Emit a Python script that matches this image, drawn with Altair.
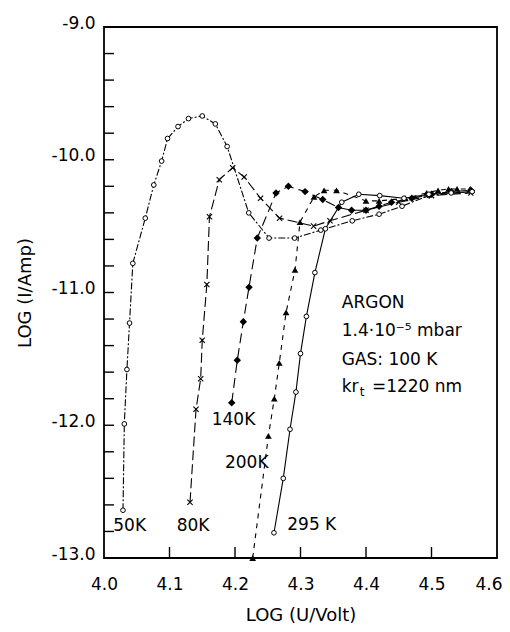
import altair as alt
import pandas as pd

# ---- data ----
x50 = [4.029, 4.031, 4.035, 4.039, 4.044, 4.063, 4.076, 4.088, 4.097, 4.113, 4.129, 4.150, 4.170, 4.188,
       4.221, 4.252, 4.291, 4.331, 4.379, 4.420, 4.455, 4.496, 4.562]
y50 = [-12.64, -11.99, -11.58, -11.23, -10.78, -10.44, -10.19, -10.01, -9.84, -9.75, -9.69, -9.67, -9.73, -9.90,
       -10.40, -10.59, -10.59, -10.53, -10.46, -10.41, -10.35, -10.27, -10.24]

x80 = [4.1313, 4.1405, 4.1476, 4.150, 4.157, 4.161, 4.176, 4.1964, 4.214, 4.239, 4.268, 4.320, 4.345,
       4.400, 4.450, 4.500, 4.560]
y80 = [-12.58, -11.88, -11.65, -11.36, -10.94, -10.43, -10.15, -10.06, -10.13, -10.29, -10.44, -10.50, -10.46,
       -10.38, -10.32, -10.27, -10.25]

x140 = [4.195, 4.2035, 4.2127, 4.2214, 4.234, 4.2626, 4.2815, 4.307, 4.334, 4.358, 4.378, 4.400, 4.420,
        4.439, 4.470, 4.500, 4.530, 4.560]
y140 = [-11.83, -11.51, -11.22, -10.96, -10.59, -10.25, -10.20, -10.24, -10.30, -10.36, -10.38, -10.38, -10.35,
        -10.32, -10.29, -10.26, -10.24, -10.23]

x200 = [4.227, 4.251, 4.260, 4.2676, 4.278, 4.2916, 4.2992, 4.3206, 4.336, 4.355, 4.400, 4.420, 4.460,
        4.4926, 4.510, 4.526, 4.539, 4.559]
y200 = [-13.0, -12.08, -11.80, -11.53, -11.15, -10.83, -10.47, -10.28, -10.23, -10.23, -10.31, -10.31, -10.29,
        -10.25, -10.23, -10.22, -10.22, -10.22]

x295 = [4.2595, 4.2737, 4.284, 4.293, 4.300, 4.309, 4.322, 4.338, 4.363, 4.389, 4.421, 4.458, 4.496, 4.530, 4.562]
y295 = [-12.81, -12.40, -12.03, -11.75, -11.46, -11.18, -10.85, -10.52, -10.32, -10.26, -10.27, -10.29, -10.26,
        -10.25, -10.24]

curve_labels = ["50K", "80K", "140K", "200K", "295 K"]
curve_label_x = [4.0142, 4.111, 4.1644, 4.1847, 4.2798]
curve_label_y = [-12.758, -12.758, -11.959, -12.287, -12.75]

note_lines = ["ARGON", "1.4\u00b710\u207b\u2075 mbar", "GAS: 100 K", "kr", "=1220 nm"]
note_x = [4.363, 4.363, 4.363, 4.363, 4.409]
note_y = [-11.078, -11.289, -11.507, -11.71, -11.71]

x_labels = [4.0, 4.1, 4.2, 4.3, 4.4, 4.5, 4.6]
y_labels = [-13.0, -12.0, -11.0, -10.0, -9.0]
x_minor = [4.1, 4.2, 4.3, 4.4, 4.5]
y_minor = [-12.8, -12.6, -12.4, -12.2, -12.0, -11.8, -11.6, -11.4, -11.2, -11.0,
           -10.8, -10.6, -10.4, -10.2, -10.0, -9.8, -9.6, -9.4, -9.2]

W, H = 393, 531
FONT = "DejaVu Sans"

xscale = alt.Scale(domain=[4.0, 4.6], nice=False, zero=False)
yscale = alt.Scale(domain=[-13.0, -9.0], nice=False, zero=False)


def frame(xs, ys):
    return pd.DataFrame({"x": xs, "y": ys, "i": list(range(len(xs)))})


X_AX = alt.X("x:Q", scale=xscale, axis=alt.Axis(
    values=x_labels, format=".1f", ticks=False, domain=False, grid=False, labelFlush=False,
    labelAlign={"condition": {"test": "datum.value > 4.59", "value": "right"}, "value": "center"},
    labelOffset={"condition": {"test": "datum.value > 4.59", "value": 5}, "value": 0},
    labelFont=FONT, labelFontSize=17, labelColor="black", labelPadding=18,
    title="LOG (U/Volt)", titleFont=FONT, titleFontSize=18, titleFontWeight="normal",
    titleColor="black", titleX=W / 2, titleY=57, titleBaseline="middle", titleAnchor="middle"))
Y_AX = alt.Y("y:Q", scale=yscale, axis=alt.Axis(
    values=y_labels, labelExpr="(datum.value < 0 ? '-' : '') + format(abs(datum.value), '.1f')",
    ticks=False, domain=False, grid=False, labelFlush=False,
    labelFont=FONT, labelFontSize=17, labelColor="black", labelPadding=9, labelOffset=-4,
    title="LOG (I/Amp)", titleFont=FONT, titleFontSize=18, titleFontWeight="normal",
    titleColor="black", titleX=-79, titleY=H / 2, titleAngle=-90, titleBaseline="middle",
    titleAlign="center"))

layers = []

# inward ticks
layers.append(alt.Chart(pd.DataFrame({"y": y_minor})).mark_rule(color="black", strokeWidth=1.4)
              .encode(y=Y_AX, x=alt.value(0), x2=alt.value(10)))
layers.append(alt.Chart(pd.DataFrame({"x": x_minor})).mark_rule(color="black", strokeWidth=1.4)
              .encode(x=X_AX, y=alt.value(H), y2=alt.value(H - 11)))

series = [
    (x50, y50, [7, 2, 2, 2], "circle"),
    (x80, y80, [10, 4], "cross"),
    (x140, y140, [10, 5], "diamond"),
    (x200, y200, [5, 5], "triangle"),
    (x295, y295, None, "circle"),
]

for xs, ys, dash, kind in series:
    df = frame(xs, ys)
    line_kw = dict(color="black", strokeWidth=1.1)
    if dash:
        line_kw["strokeDash"] = dash
    layers.append(alt.Chart(df).mark_line(**line_kw).encode(x=X_AX, y=Y_AX, order="i:Q"))
    if kind == "circle":
        pm = alt.Chart(df).mark_point(shape="circle", size=22, filled=True, fill="white",
                                      stroke="black", strokeWidth=1, opacity=1)
    elif kind == "cross":
        pm = alt.Chart(df).mark_point(shape="M-1,-1L1,1M-1,1L1,-1", size=28, filled=False,
                                      stroke="black", strokeWidth=1.1, opacity=1)
    elif kind == "diamond":
        pm = alt.Chart(df).mark_point(shape="diamond", size=55, filled=True, color="black", opacity=1)
    else:
        pm = alt.Chart(df).mark_point(shape="triangle-up", size=45, filled=True, color="black", opacity=1)
    layers.append(pm.encode(x=X_AX, y=Y_AX))

lab = pd.DataFrame({"x": curve_label_x, "y": curve_label_y, "t": curve_labels})
layers.append(alt.Chart(lab).mark_text(align="left", baseline="middle", font=FONT, fontSize=17,
                                       color="black").encode(x=X_AX, y=Y_AX, text="t:N"))

notes = pd.DataFrame({"x": note_x, "y": note_y, "t": note_lines})
layers.append(alt.Chart(notes).mark_text(align="left", baseline="middle", font=FONT, fontSize=17,
                                         color="black").encode(x=X_AX, y=Y_AX, text="t:N"))
sub = pd.DataFrame({"x": [note_x[3]], "y": [note_y[3]], "t": ["t"]})
layers.append(alt.Chart(sub).mark_text(align="left", baseline="middle", font=FONT, fontSize=12,
                                       color="black", dx=18, dy=5).encode(x=X_AX, y=Y_AX, text="t:N"))

chart = alt.layer(*layers).properties(
    width=W, height=H,
    autosize=alt.AutoSizeParams(type="none"),
    padding={"left": 96, "top": 19, "right": 5, "bottom": 66},
    background="white",
).configure_view(stroke="black", strokeWidth=1.8)

chart.save("out.html", embed_options={"renderer": "svg", "actions": False})
